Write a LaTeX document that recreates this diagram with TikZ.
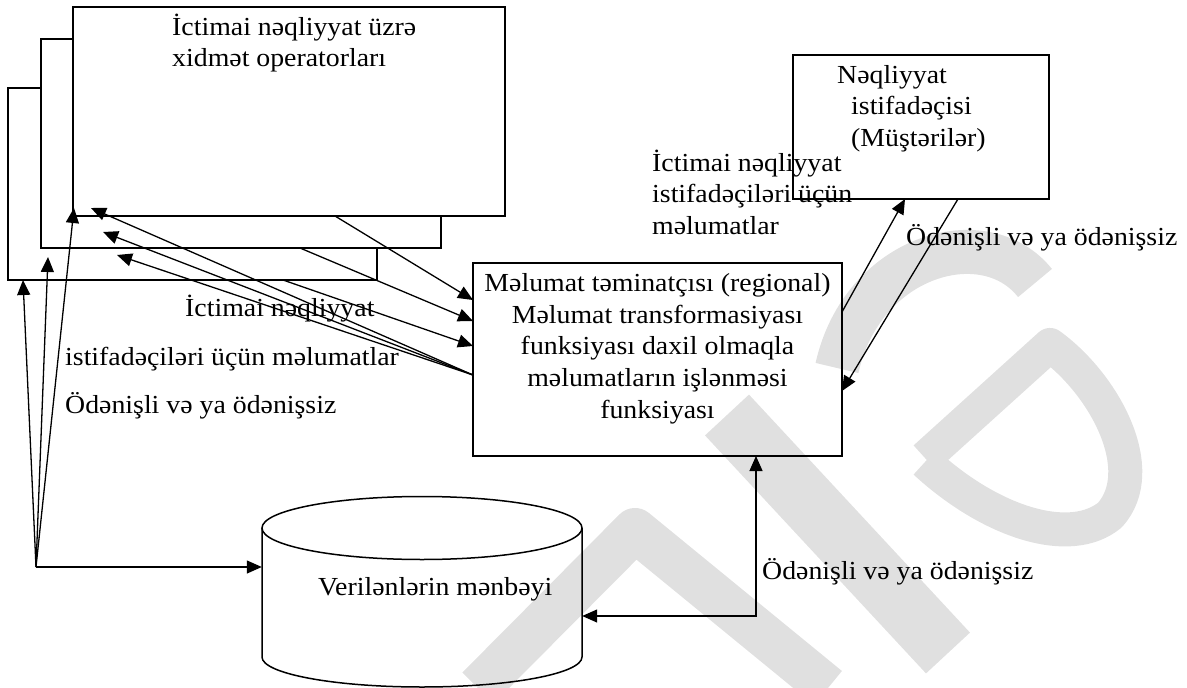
\documentclass[tikz,border=0pt]{standalone}
\usepackage{fontspec}
\setmainfont{Liberation Serif}[FakeStretch=1.07]
\usetikzlibrary{arrows.meta}
\newcommand\fsz{\fontsize{26}{31.7}\selectfont}
\begin{document}
\begin{tikzpicture}[x=1pt,y=-1pt,
  box/.style={draw, line width=1.6pt, inner sep=0pt, outer sep=0pt, anchor=north west},
  wbox/.style={box, fill=white},
  conn/.style={line width=1.3pt, -{Triangle[length=15pt,width=13pt]}},
  dconn/.style={line width=1.3pt, {Triangle[length=15pt,width=13pt]}-{Triangle[length=15pt,width=13pt]}},
  lbl/.style={font=\fsz, inner sep=0pt, anchor=base west},
  mlbl/.style={font=\fsz, inner sep=0pt, anchor=north west, align=left},
  cylline/.style={line width=1.5pt},
  wm/.style={line width=44pt, draw=black!12, line cap=butt, line join=round}]
\useasboundingbox (0,0) rectangle (1187,688);
% watermark
\draw[wm] (837,368) .. controls (862,255) and (985,220) .. (1035,283);
\draw[wm, line width=34pt] (925,458) -- (1050,345) .. controls (1105,385) and (1150,470) .. (1110,515) .. controls (1070,548) and (990,522) .. (925,462);
\draw[wm, line width=60pt] (727,415) -- (948,653);
\draw[wm] (478,688) -- (635,530) -- (828,688);
% stacked operator boxes
\node[wbox, minimum width=369pt, minimum height=192pt] (b3) at (8,88) {};
\node[wbox, minimum width=400pt, minimum height=209pt] (b2) at (41,39) {};
\node[wbox, minimum width=432pt, minimum height=209pt] (b1) at (73,7) {};
\node[mlbl] (b1t) at (172,12.8) {\strut İctimai nəqliyyat üzrə\\\strut xidmət operatorları};
% provider box
\node[box, minimum width=369pt, minimum height=193pt] (pr) at (473,263) {};
\node[font=\fsz, inner sep=0pt, anchor=north, align=center] (prt) at (657.5,269.1)
  {\strut Məlumat təminatçısı (regional)\\\strut Məlumat transformasiyası\\\strut funksiyası daxil olmaqla\\\strut məlumatların işlənməsi\\\strut funksiyası};
% user box
\node[box, minimum width=256pt, minimum height=144pt] (us) at (793,55) {};
\node[mlbl] (ust) at (837,60.8) {\strut Nəqliyyat\\\hspace*{14pt}\strut istifadəçisi\\\hspace*{14pt}\strut (Müştərilər)};
% cylinder
\node[inner sep=0pt, minimum width=320pt, minimum height=191pt] (cyl) at (422,591.5) {};
\draw[cylline] (262,528) -- (262,657) arc[start angle=180, end angle=0, x radius=160, y radius=30] -- (582,528);
\draw[cylline] (422,528) ellipse[x radius=160, y radius=31.5];
\node[lbl] (cylt) at (318,595) {Verilənlərin mənbəyi};
% labels
\node[mlbl] (l1) at (652,148.8) {\strut İctimai nəqliyyat\\\strut istifadəçiləri üçün\\\strut məlumatlar};
\node[lbl] (l2) at (906,245) {Ödənişli və ya ödənişsiz};
\node[lbl] (l3) at (185,316) {İctimai nəqliyyat};
\node[lbl] (l4) at (65,365) {istifadəçiləri üçün məlumatlar};
\node[lbl] (l5) at (65,413) {Ödənişli və ya ödənişsiz};
\node[lbl] (l6) at (762,579) {Ödənişli və ya ödənişsiz};
% connectors from left origin
\coordinate (O) at (36,567);
\draw[conn] (O) -- ([xshift=15pt]b3.south west);
\draw[conn] (O) -- ([xshift=7pt,yshift=-9pt]b2.south west);
\draw[conn] (O) -- ([xshift=1pt,yshift=8pt]b1.south west);
\draw[conn] (O) -- (O -| cyl.west);
% provider -> operators
\coordinate (PL) at ([yshift=-112pt]pr.north west);
\draw[conn] (PL) -- ([xshift=18pt,yshift=8pt]b1.south west);
\draw[conn] (PL) -- ([xshift=62pt,yshift=16pt]b2.south west);
\draw[conn] (PL) -- ([xshift=109pt,yshift=25pt]b3.south west);
% operators -> provider
\draw[conn] ([xshift=262pt]b1.south west) -- ([yshift=-37pt]pr.north west);
\draw[conn] ([xshift=259pt]b2.south west) -- ([yshift=-58pt]pr.north west);
\draw[conn] ([xshift=275pt]b3.south west) -- ([yshift=-83pt]pr.north west);
% provider <-> user
\draw[conn] ([yshift=-49pt]pr.north east) -- ([xshift=112pt]us.south west);
\draw[conn] ([xshift=165pt]us.south west) -- ([yshift=-128pt]pr.north east);
% provider <-> data source
\draw[dconn] (cyl.east |- 0,616) -| ([xshift=283pt]pr.south west);
\end{tikzpicture}
\end{document}
